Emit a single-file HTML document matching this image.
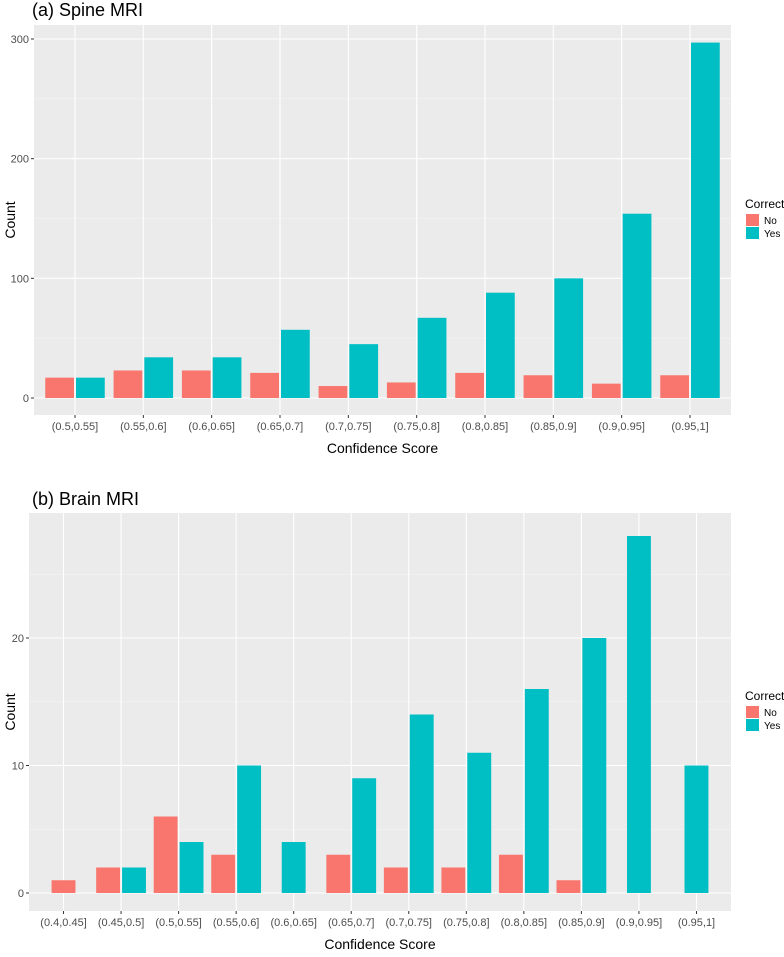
<!DOCTYPE html>
<html><head><meta charset="utf-8"><style>
body{margin:0;background:#fff;width:784px;height:952px;overflow:hidden}
svg text{font-family:"Liberation Sans",sans-serif}
</style></head><body>
<svg id="c" width="784" height="952" xmlns="http://www.w3.org/2000/svg"></svg>
<script>
const spineCats=["(0.5,0.55]","(0.55,0.6]","(0.6,0.65]","(0.65,0.7]","(0.7,0.75]","(0.75,0.8]","(0.8,0.85]","(0.85,0.9]","(0.9,0.95]","(0.95,1]"];
const spineNo=[17,23,23,21,10,13,21,19,12,19];
const spineYes=[17,34,34,57,45,67,88,100,154,297];
const spineTicks=[0,100,200,300];
const brainCats=["(0.4,0.45]","(0.45,0.5]","(0.5,0.55]","(0.55,0.6]","(0.6,0.65]","(0.65,0.7]","(0.7,0.75]","(0.75,0.8]","(0.8,0.85]","(0.85,0.9]","(0.9,0.95]","(0.95,1]"];
const brainNo=[1,2,6,3,0,3,2,2,3,1,0,0];
const brainYes=[0,2,4,10,4,9,14,11,16,20,28,10];
const brainTicks=[0,10,20];

const svg=document.getElementById('c');
const NS="http://www.w3.org/2000/svg";
function mk(tag,attrs,parent){const e=document.createElementNS(NS,tag);for(const k in attrs)e.setAttribute(k,attrs[k]);(parent||svg).appendChild(e);return e;}

function panel(o){
  const g=mk('g',{});
  
  
  const t=mk('text',{x:32,y:o.titleY,'font-size':18,fill:'#000'},g);t.textContent=o.title;
  
  
  const bg=mk('rect',{x:o.left,y:o.top,width:o.right-o.left,height:o.bottom-o.top,fill:'#ebebeb'},g);
  
  
  const n=o.cats.length;
  const step=(o.right-o.left)/(n+0.2);
  const xc=i=>o.left+step*(0.6+i);
  const y=v=>o.y0-v*o.ppu;
  for(let i=0;i<o.ticks.length;i++){
    const v=o.ticks[i]+(o.ticks[1]-o.ticks[0])/2;
    if(y(v)>o.top) mk('line',{x1:o.left,x2:o.right,y1:y(v),y2:y(v),stroke:'#f5f5f5','stroke-width':0.6},g);
  }
  for(const v of o.ticks){
    const gl=mk('line',{x1:o.left,x2:o.right,y1:y(v),y2:y(v),stroke:'#fff','stroke-width':1.1},g);
    
    
    mk('line',{x1:o.left-3,x2:o.left,y1:y(v),y2:y(v),stroke:'#333','stroke-width':1},g);
    const tl=mk('text',{x:o.left-5,y:y(v)+4,'font-size':11,fill:'#4d4d4d','text-anchor':'end'},g);tl.textContent=v;
    
    
  }
  const bw=step*0.9/2;
  for(let i=0;i<n;i++){
    const gl=mk('line',{x1:xc(i),x2:xc(i),y1:o.top,y2:o.bottom,stroke:'#fff','stroke-width':1.1},g);
    
    
    mk('line',{x1:xc(i),x2:xc(i),y1:o.bottom,y2:o.bottom+3,stroke:'#333','stroke-width':1},g);
    const tl=mk('text',{x:xc(i),y:o.bottom+15,'font-size':11,fill:'#4d4d4d','text-anchor':'middle'},g);tl.textContent=o.cats[i];
    
    
  }
  for(let i=0;i<n;i++){
    const both=o.no[i]>0&&o.yes[i]>0;
    if(o.no[i]>0){const x0=both?xc(i)-bw+1:xc(i)-bw/2+1;
      const r=mk('rect',{x:x0,y:y(o.no[i]),width:bw-2,height:o.no[i]*o.ppu,fill:'#f8766d'},g);
      
      }
    if(o.yes[i]>0){const x0=both?xc(i)+1:xc(i)-bw/2+1;
      const r=mk('rect',{x:x0,y:y(o.yes[i]),width:bw-2,height:o.yes[i]*o.ppu,fill:'#00bfc4'},g);
      
      }
  }
  const xl=mk('text',{x:(o.left+o.right)/2,y:o.bottom+38,'font-size':14,fill:'#000','text-anchor':'middle'},g);xl.textContent='Confidence Score';
  
  
  const cy=(o.top+o.bottom)/2;
  const yl=mk('text',{x:15,y:cy,'font-size':14,fill:'#000','text-anchor':'middle',transform:`rotate(-90 15 ${cy})`},g);yl.textContent='Count';
  
  
  const lg=mk('g',{},g);
  
  
  const lt=mk('text',{x:745,y:cy-12,'font-size':12,fill:'#000'},lg);lt.textContent='Correct';
  [['No','#f8766d'],['Yes','#00bfc4']].forEach((d,k)=>{
    const ry=cy-6+k*13;
    mk('rect',{x:746,y:ry,width:13,height:12,fill:d[1]},lg);
    const e=mk('text',{x:764,y:ry+10,'font-size':10,fill:'#000'},lg);e.textContent=d[0];
    
    
  });
}
panel({name:'spine-mri-chart',title:'(a) Spine MRI',titleY:16,left:34,right:731,top:25,bottom:415,y0:398,ppu:359/300,cats:spineCats,no:spineNo,yes:spineYes,ticks:spineTicks});
panel({name:'brain-mri-chart',title:'(b) Brain MRI',titleY:505,left:29,right:731,top:513,bottom:911,y0:893,ppu:12.75,cats:brainCats,no:brainNo,yes:brainYes,ticks:brainTicks});
</script>
</body></html>
